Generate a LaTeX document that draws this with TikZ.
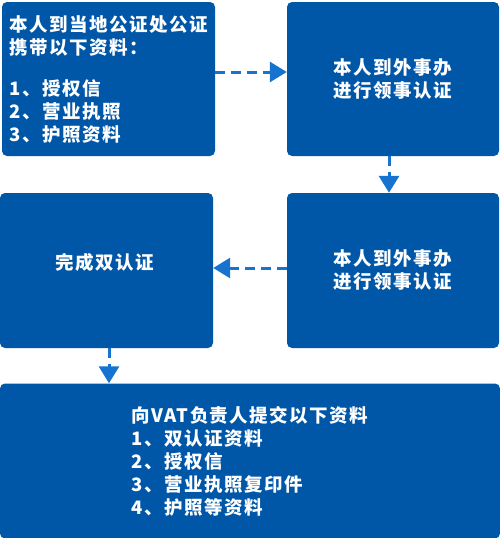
\documentclass[tikz,border=0pt]{standalone}
\usepackage{fontspec}
\setmainfont{Noto Sans CJK SC}[LetterSpace=8]
\usetikzlibrary{arrows.meta}
\definecolor{boxblue}{RGB}{0,87,168}
\definecolor{arrowblue}{RGB}{22,116,208}
\tikzset{
  stepbox/.style={fill=boxblue, rounded corners=5pt, inner sep=0pt, text=white,
    font=\bfseries\fontsize{18.5}{23}\selectfont, align=left},
  flow/.style={draw=arrowblue, line width=3pt, dash pattern=on 10pt off 6pt,
    -{Triangle[width=20pt,length=17pt]}, shorten >=0pt}
}
\begin{document}
\begin{tikzpicture}[x=1pt,y=-1pt]
\useasboundingbox (0,0) rectangle (500,538);
\node[stepbox, minimum width=213pt, minimum height=154pt] (b1) at (108.5,79)
  {本人到当地公证处公证\\携带以下资料：\\[18pt]1、授权信\\2、营业执照\\3、护照资料};
\node[stepbox, minimum width=212pt, minimum height=154pt] (b2) at (393,79)
  {本人到外事办\\进行领事认证};
\node[stepbox, minimum width=212pt, minimum height=155pt] (b4) at (393,270.5)
  {本人到外事办\\进行领事认证};
\node[stepbox, minimum width=213pt, minimum height=155pt] (b3) at (106.5,270.5) {};
\node[text=white, font=\bfseries\fontsize{18.5}{23}\selectfont] (t3) at (105,262) {完成双认证};
\node[stepbox, minimum width=500pt, minimum height=155pt] (b5) at (250,461)
  {向VAT负责人提交以下资料\\1、双认证资料\\2、授权信\\3、营业执照复印件\\4、护照等资料};
\draw[flow] (b1.east |- 0,72) -- (b2.west |- 0,72);
\draw[flow] (b2.south -| 389,0) -- (b4.north -| 389,0);
\draw[flow] (b4.west |- 0,268) -- (b3.east |- 0,268);
\draw[flow] (b3.south -| 109,0) -- (b5.north -| 109,0);
\end{tikzpicture}
\end{document}
